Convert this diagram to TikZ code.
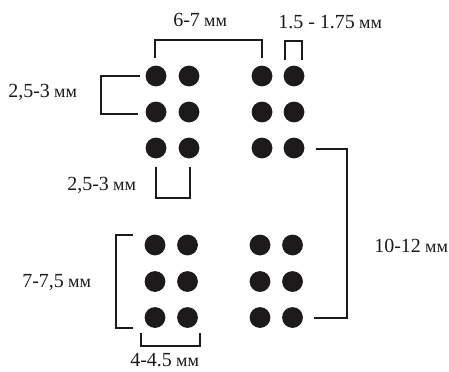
\documentclass[tikz,border=0pt]{standalone}
\usepackage{fontspec}
\setmainfont{Liberation Serif}
\definecolor{ink}{HTML}{1C1A1B}
\newcommand{\mmunit}{{\fontsize{13.5}{15}\selectfont\kern-0.6pt мм}}
\tikzset{
  dot/.style={circle,fill=ink,draw=none,minimum size=15.6pt,inner sep=0pt},
  bracket/.style={draw=ink,line width=1.5pt,line join=miter},
  lbl/.style={text=ink,font=\fontsize{15}{17}\selectfont,inner sep=0pt,anchor=west}
}
\begin{document}
\begin{tikzpicture}[x=0.75pt,y=-0.75pt]
\useasboundingbox (0,0) rectangle (449,371);
\foreach \n/\x/\y in {a1/156/76,a2/189/76,a3/156/112,a4/189/112,a5/156/148,a6/189/148,
                      b1/262/76,b2/294/76,b3/262/112,b4/294/112,b5/262/148,b6/294/148,
                      c1/155/245,c2/187.5/245,c3/155/281.5,c4/187.5/281.5,c5/155/317.5,c6/187.5/317.5,
                      d1/260/245,d2/292.5/245,d3/260/281.5,d4/292.5/281.5,d5/260/317.5,d6/292.5/317.5}
  \node[dot] (\n) at (\x,\y) {};
\coordinate (p1a) at (154.5,58);   \coordinate (p1b) at (154.5,39.5); \coordinate (p1c) at (261.5,39.5); \coordinate (p1d) at (261.5,58);
\coordinate (p2a) at (285,60);     \coordinate (p2b) at (285,41);     \coordinate (p2c) at (302,41);     \coordinate (p2d) at (302,60);
\coordinate (p3a) at (140,76);     \coordinate (p3b) at (101,76);     \coordinate (p3c) at (101,113.5);  \coordinate (p3d) at (138,113.5);
\coordinate (p4a) at (156,166.5);  \coordinate (p4b) at (156,198);    \coordinate (p4c) at (189.5,198);  \coordinate (p4d) at (189.5,166.5);
\coordinate (p5a) at (316,148.5);  \coordinate (p5b) at (347,148.5);  \coordinate (p5c) at (347,317.5);  \coordinate (p5d) at (314,317.5);
\coordinate (p6a) at (133,234.5);  \coordinate (p6b) at (116,234.5);  \coordinate (p6c) at (116,327.5);  \coordinate (p6d) at (133,327.5);
\coordinate (p7a) at (141,332.5);  \coordinate (p7b) at (141,346);    \coordinate (p7c) at (200,346);    \coordinate (p7d) at (200,332.5);
\foreach \k in {1,...,7}
  \draw[bracket] (p\k a) -- (p\k b) -- (p\k c) -- (p\k d);
\node[lbl] (t1) at (173,20) {6-7 \mmunit};
\node[lbl] (t2) at (278,22) {1.5 - 1.75 \mmunit};
\node[lbl] (t3) at (8,92) {2,5-3 \mmunit};
\node[lbl] (t4) at (67,185) {2,5-3 \mmunit};
\node[lbl] (t5) at (374,246) {10-12 \mmunit};
\node[lbl] (t6) at (22,282) {7-7,5 \mmunit};
\node[lbl] (t7) at (130,360.5) {4-4.5 \mmunit};
\end{tikzpicture}
\end{document}
